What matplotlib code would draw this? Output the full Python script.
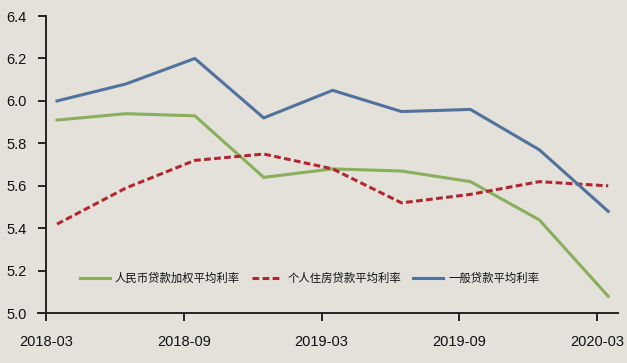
import matplotlib
matplotlib.use("Agg")
import matplotlib.pyplot as plt

# quarterly loan rates (%), 2018-03 .. 2020-03
quarters = ["2018-03", "2018-06", "2018-09", "2018-12", "2019-03",
            "2019-06", "2019-09", "2019-12", "2020-03"]
rmb_weighted = [5.91, 5.94, 5.93, 5.64, 5.68, 5.67, 5.62, 5.44, 5.08]
mortgage = [5.42, 5.59, 5.72, 5.75, 5.68, 5.52, 5.56, 5.62, 5.60]
general = [6.00, 6.08, 6.20, 5.92, 6.05, 5.95, 5.96, 5.77, 5.48]
tick_labels = ["2018-03", "2018-09", "2019-03", "2019-09", "2020-03"]
yticks = [5.0, 5.2, 5.4, 5.6, 5.8, 6.0, 6.2, 6.4]

bg = "#e3e1d9"
W, H = 627, 363

fig = plt.figure(figsize=(W / 100, H / 100), dpi=100, facecolor=bg)
# axes box in pixels: x 38..618, y 16..313
ax = fig.add_axes([38 / W, 1 - 313.3 / H, (618 - 38) / W, (313.3 - 16) / H])
ax.set_facecolor(bg)

x = list(range(len(quarters)))
ax.plot(x, rmb_weighted, color="#8aaf5c", lw=2.2, label="人民币贷款加权平均利率")
ax.plot(x, mortgage, color="#b3262f", lw=2.2, ls=(0, (2.2, 1.1)), label="个人住房贷款平均利率")
ax.plot(x, general, color="#50729c", lw=2.2, label="一般贷款平均利率")

ax.set_xlim(-0.276, 8.142)
ax.set_ylim(5.0, 6.4)
ax.set_yticks(yticks)
ax.set_yticklabels([f"{v:.1f}" for v in yticks])
ax.set_xticks([2 * k - 0.16 for k in range(len(tick_labels))])
ax.set_xticklabels(tick_labels)

for s in ["top", "right"]:
    ax.spines[s].set_visible(False)
ax.spines["left"].set_position(("data", -0.16))
for s in ["left", "bottom"]:
    ax.spines[s].set_linewidth(1.4)
    ax.spines[s].set_color("#222222")

ax.tick_params(axis="both", direction="out", length=5.8, width=1.4, color="#222222",
               labelsize=10.5, labelcolor="#111111")
ax.tick_params(axis="y", pad=8)
ax.tick_params(axis="x", pad=9.5)
for lab in ax.get_xticklabels() + ax.get_yticklabels():
    lab.set_family(["Liberation Sans Narrow", "Liberation Sans", "DejaVu Sans"])

leg = ax.legend(loc="center left", bbox_to_anchor=((80 - 38) / 580, (313.3 - 278) / 297.3),
                ncol=3, frameon=False, borderpad=0, borderaxespad=0,
                handlelength=2.6, handletextpad=0.45, columnspacing=1.1,
                prop={"family": ["Noto Sans CJK SC", "DejaVu Sans"], "size": 8.2})
for t in leg.get_texts():
    t.set_color("#111111")

fig.savefig("out.png", dpi=100, facecolor=bg)
